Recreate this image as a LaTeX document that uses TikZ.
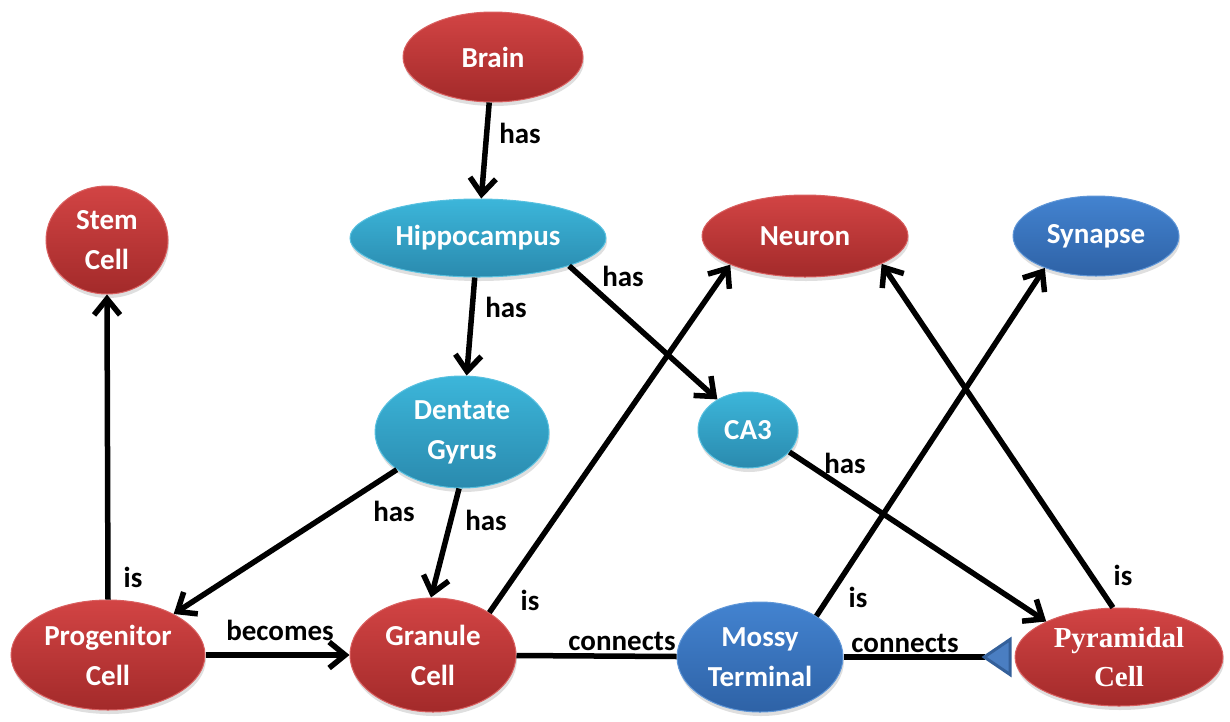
\documentclass[tikz,border=0pt]{standalone}
\usepackage{fontspec}
\setmainfont{Carlito}
\newfontfamily\timesf{Liberation Serif}
\usetikzlibrary{shapes.geometric,arrows.meta,shadows}
\definecolor{redtop}{HTML}{D24444}
\definecolor{redbot}{HTML}{A32A2A}
\definecolor{cyantop}{HTML}{3CB6DA}
\definecolor{cyanbot}{HTML}{2A8AAE}
\definecolor{bluetop}{HTML}{4383D0}
\definecolor{bluebot}{HTML}{2E62A6}
\definecolor{tribl}{HTML}{4A7EC2}
\definecolor{tribd}{HTML}{34609A}
\tikzset{
  ell/.style={ellipse, inner sep=0pt, text=white, align=center,
    font=\fontsize{29}{40}\selectfont\bfseries,
    drop shadow={shadow xshift=1pt, shadow yshift=-4pt, opacity=0.25}},
  rednode/.style={ell, top color=redtop, bottom color=redbot, draw=redtop!85!white, line width=1pt},
  cyannode/.style={ell, top color=cyantop, bottom color=cyanbot, draw=cyantop!85!white, line width=1pt},
  bluenode/.style={ell, top color=bluetop, bottom color=bluebot, draw=bluetop!85!white, line width=1pt},
  arr/.style={line width=5.5pt, -{Straight Barb[length=16pt,width=26pt]}},
  plain/.style={line width=5.5pt},
  lbl/.style={font=\fontsize{29}{34}\selectfont\bfseries, text=black, inner sep=0pt}
}
\begin{document}
\begin{tikzpicture}[x=1pt,y=-1pt]
\useasboundingbox (0,0) rectangle (1230,721);
\node[rednode, minimum width=180pt, minimum height=90pt] (brain) at (493,57) {Brain};
\node[cyannode, minimum width=256pt, minimum height=78pt] (hip) at (478,238) {Hippocampus};
\node[rednode, minimum width=122pt, minimum height=108pt] (stem) at (107,240) {Stem\\Cell};
\node[rednode, minimum width=206pt, minimum height=82pt] (neuron) at (805,236) {Neuron};
\node[bluenode, minimum width=166pt, minimum height=80pt] (syn) at (1096,236) {Synapse};
\node[cyannode, minimum width=174pt, minimum height=112pt] (dg) at (462,432) {Dentate\\Gyrus};
\node[cyannode, minimum width=100pt, minimum height=76pt] (ca3) at (748,430) {CA3};
\node[rednode, minimum width=194pt, minimum height=110pt] (prog) at (108,655) {Progenitor\\Cell};
\node[rednode, minimum width=166pt, minimum height=114pt] (gr) at (433,655) {Granule\\Cell};
\node[bluenode, minimum width=166pt, minimum height=110pt] (mossy) at (760,657) {Mossy\\Terminal};
\node[rednode, minimum width=208pt, minimum height=98pt, font=\fontsize{29}{39}\selectfont\timesf\bfseries] (pyr) at (1119,657) {Pyramidal\\Cell};

\draw[arr] (brain) -- (hip) node[lbl] at (520,133) {has};
\draw[arr] (hip) -- (dg) node[lbl] at (506,307) {has};
\draw[arr] (hip.-17) -- (ca3.135) node[lbl] at (623,276) {has};
\draw[arr] (dg.210) -- (prog.32) node[lbl] at (394,511) {has};
\draw[arr] (dg.-93) -- (gr.92) node[lbl] at (486,520) {has};
\draw[arr] (prog.90) -- (stem.-90) node[lbl] at (133,577) {is};
\draw[arr] (prog) -- (gr) node[lbl] at (280,630) {becomes};
\draw[arr] (gr.37) -- (neuron.-159) node[lbl] at (530,600) {is};
\draw[plain] (gr) -- (mossy) node[lbl] at (622,641) {connects};
\draw[arr] (mossy.36) -- (syn.212) node[lbl] at (858,597) {is};
\draw[line width=5.5pt, shorten >=3pt, -{Triangle[reversed,length=30pt,width=40pt,line width=3pt,fill=tribl,color=tribd]}] (mossy) -- (pyr) node[lbl] at (905,643) {connects};
\draw[arr] (ca3.-28) -- (pyr.154) node[lbl] at (845,463) {has};
\draw[arr] (pyr.97) -- (neuron.-20) node[lbl] at (1123,575) {is};
\end{tikzpicture}
\end{document}
